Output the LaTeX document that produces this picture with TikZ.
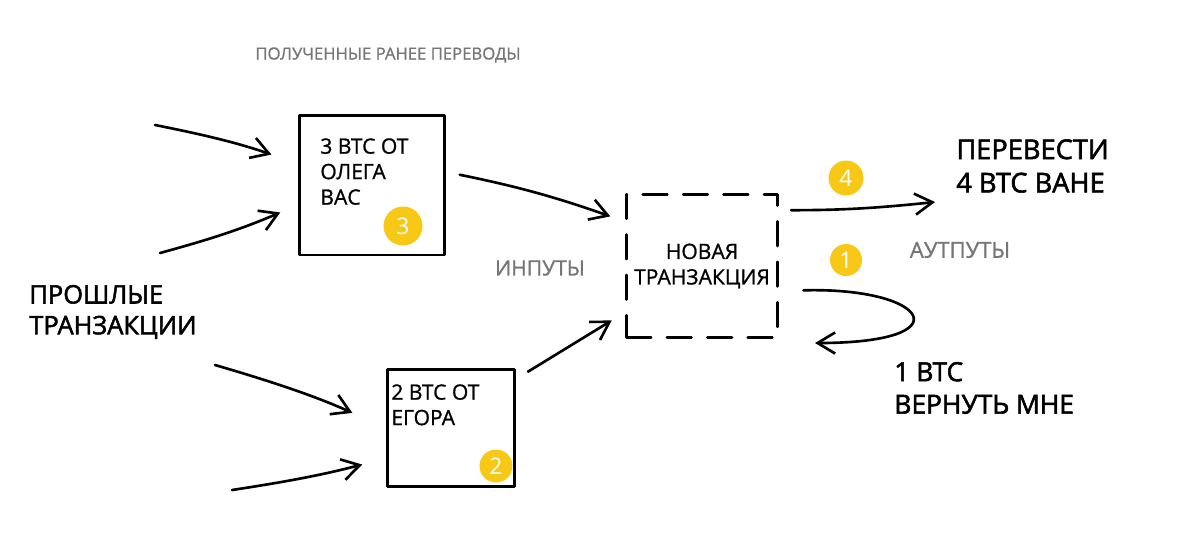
\documentclass[tikz,border=0pt]{standalone}
\usepackage{fontspec}
\setmainfont{Open Sans}
\newfontfamily\markerfont{Open Sans}[FakeBold=2]
\newfontfamily\penfont{Open Sans}[FakeBold=1]
\usepackage{xcolor}
\definecolor{skyellow}{RGB}{248,200,22}
\definecolor{skgray}{RGB}{118,118,118}
\usetikzlibrary{arrows.meta,positioning,calc}

\begin{document}
\begin{tikzpicture}[x=0.02cm,y=-0.02cm,
  sketch/.style={line width=1.5pt,line cap=round,line join=round},
  arr/.style={sketch,-{Straight Barb[length=10pt,width=12pt]}},
  txbox/.style={draw,sketch,line width=1.7pt},
  badge/.style={circle,fill=skyellow,text=white,inner sep=0pt,
        minimum size=0.72cm,font=\fontsize{13}{13}\selectfont},
  note/.style={text=skgray,font=\penfont\fontsize{12}{14}\selectfont},
  bigtxt/.style={align=left,anchor=west,inner sep=0pt,
        font=\markerfont\fontsize{15.5}{19}\selectfont},
  boxtxt/.style={align=left,anchor=north west,inner sep=0pt,
        font=\penfont\fontsize{12}{14.5}\selectfont}]
  \fill[white] (0,0) rectangle (1200,552);

  %% Earlier received transfers
  \node[note,font=\penfont\fontsize{9.5}{11}\selectfont] (prev) at (388,55)
        {ПОЛУЧЕННЫЕ РАНЕЕ ПЕРЕВОДЫ};
  \node[bigtxt,font=\markerfont\fontsize{14.5}{17.5}\selectfont] (past) at (29,312)
        {ПРОШЛЫЕ\\ТРАНЗАКЦИИ};

  \node[txbox,minimum width=2.9cm,minimum height=2.8cm] (b1) at (372,185) {};
  \node[boxtxt] (b1t) at (320,138) {3 BTC ОТ\\ОЛЕГА\\ВАС};
  \node[badge,minimum size=0.78cm] (c3) at (403,226) {3};

  \node[txbox,minimum width=2.54cm,minimum height=2.34cm] (b2) at (451,428) {};
  \node[boxtxt] (b2t) at (391,384) {2 BTC ОТ\\ЕГОРА};
  \node[badge,minimum size=0.66cm] (c2) at (496,466) {2};

  \coordinate (src1) at (155,125);
  \coordinate (src2) at (160,253);
  \coordinate (src3) at (215,365);
  \coordinate (src4) at (232,490);
  \draw[arr,shorten >=16pt] (src1) to[bend left=4] (b1.164);
  \draw[arr,shorten >=11pt] (src2) to[bend right=4] (b1.195);
  \draw[arr,shorten >=21pt] (src3) to[bend left=4] (b2.180);
  \draw[arr,shorten >=14pt] (src4) to[bend right=3] (b2.205);

  %% New transaction
  \node[draw,sketch,dash pattern=on 14pt off 9pt,
        minimum width=3.02cm,minimum height=2.86cm,align=center,
        font=\penfont\fontsize{12}{14.5}\selectfont] (nt) at (702,266)
        {НОВАЯ\\ТРАНЗАКЦИЯ};
  \node[note] (inp) at (540,268) {ИНПУТЫ};
  \draw[arr,shorten <=8pt,shorten >=9pt] (b1.10) to[bend left=4] (nt.150);
  \draw[arr,shorten <=8pt,shorten >=9pt] (b2.37) to (nt.211);

  %% Outputs
  \node[note,font=\penfont\fontsize{12.5}{14}\selectfont] (outp) at (960,250) {АУТПУТЫ};
  \node[badge,minimum size=0.7cm] (c4) at (846,178) {4};
  \node[badge,minimum size=0.64cm] (c1) at (846,260) {1};
  \node[bigtxt] (send) at (956,166) {ПЕРЕВЕСТИ\\4 BTC ВАНЕ};
  \node[bigtxt,font=\markerfont\fontsize{15}{18.5}\selectfont] (back) at (894,388)
        {1 BTC\\ВЕРНУТЬ МНЕ};
  \coordinate (out4) at (935,202);
  \coordinate (ret1) at (815,343);
  \draw[arr,shorten <=7pt] (nt.36) to[bend right=3] (out4);
  \draw[arr,shorten <=14pt] (nt.342) .. controls +(150,-4) and +(150,0) .. (ret1);
\end{tikzpicture}
\end{document}
